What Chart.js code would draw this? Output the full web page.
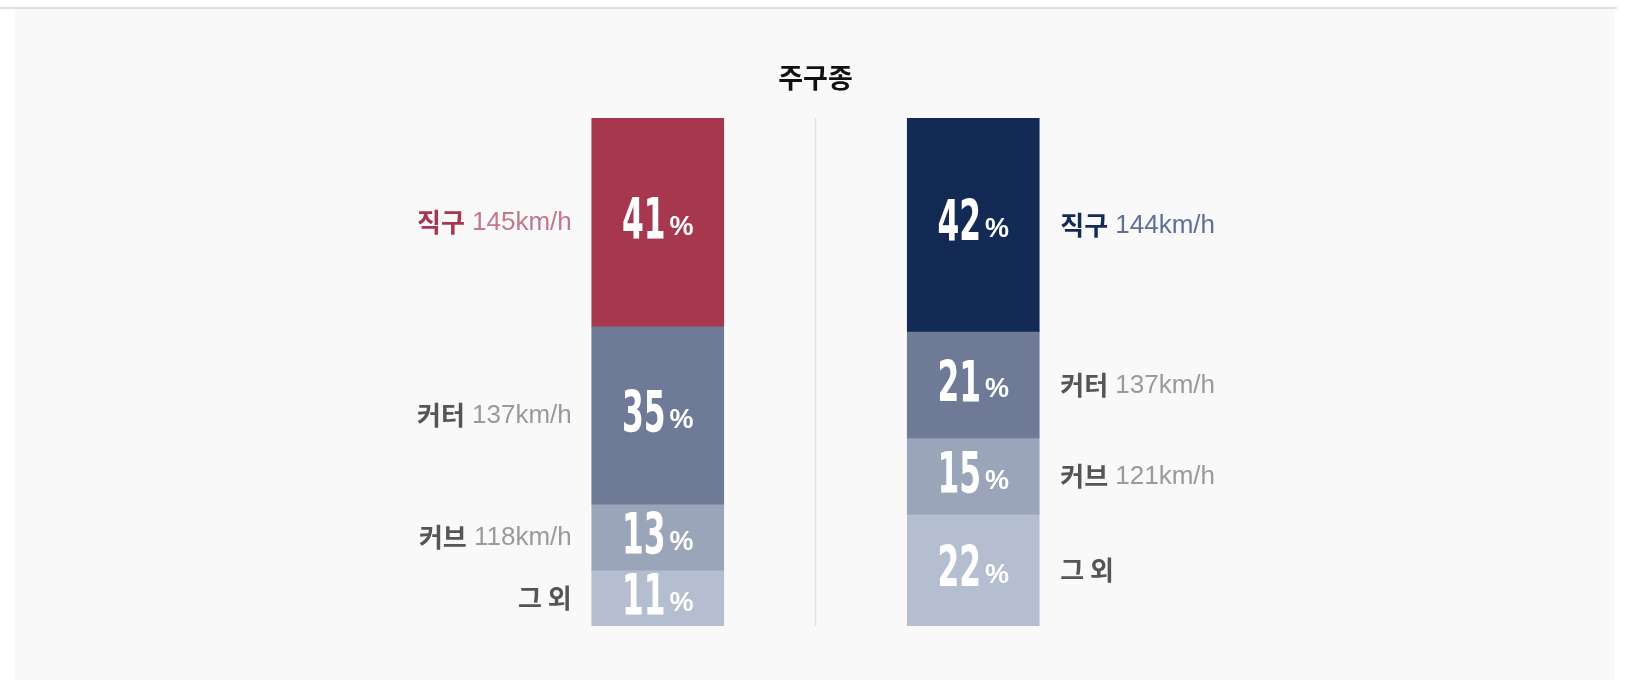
<!DOCTYPE html>
<html><head><meta charset="utf-8">
<script src="https://cdn.jsdelivr.net/npm/chart.js@4"></script>
<style>html,body{margin:0;padding:0;background:#fff;}#w{width:1642px;height:698px;}</style>
</head><body><div id="w"><canvas id="c"></canvas></div>
<script>
const title = '주구종';
const sides = ['left', 'right'];
const pitchNames = ['직구', '커터', '커브', '그 외'];
const leftPct = [41, 35, 13, 11];
const rightPct = [42, 21, 15, 22];
const leftSpeed = ['145km/h', '137km/h', '118km/h', ''];
const rightSpeed = ['144km/h', '137km/h', '121km/h', ''];

const fastColors = ['#a6374f', '#132a54'];
const fills = [null, '#6e7a96', '#9aa5ba', '#b5bdd1'];
const KR = '"Noto Sans CJK KR", "Noto Sans", sans-serif';
const LAT = '"Liberation Sans", "Noto Sans CJK KR", sans-serif';

const datasets = pitchNames.map((n, i) => ({
  label: n,
  data: [leftPct[i], rightPct[i]],
  backgroundColor: i === 0 ? fastColors : fills[i],
  barThickness: 132,
  borderWidth: 0
}));

const deco = {
  id: 'deco',
  beforeDraw(chart) {
    const ctx = chart.ctx, a = chart.chartArea;
    ctx.save();
    ctx.fillStyle = '#f9f9f9';
    ctx.fillRect(15, 9, 1600, 671);
    ctx.fillStyle = '#dedede';
    ctx.fillRect(0, 7, 1617, 2);
    const x0 = chart.scales.x.getPixelForValue(0), x1 = chart.scales.x.getPixelForValue(1);
    ctx.strokeStyle = '#e2e2e2'; ctx.lineWidth = 1.5;
    ctx.beginPath(); ctx.moveTo((x0 + x1) / 2, a.top); ctx.lineTo((x0 + x1) / 2, a.bottom); ctx.stroke();
    ctx.fillStyle = '#111'; ctx.font = 'bold 27px ' + KR;
    ctx.textAlign = 'center'; ctx.textBaseline = 'middle';
    ctx.fillText(title, (x0 + x1) / 2, 78);
    ctx.restore();
  },
  afterDatasetsDraw(chart) {
    const ctx = chart.ctx;
    ctx.save();
    const NUMF = '900 60px "DejaVu Sans Condensed", "Liberation Sans Narrow", sans-serif';
    chart.data.datasets.forEach((ds, i) => {
      const meta = chart.getDatasetMeta(i);
      meta.data.forEach((bar, j) => {
        const cy = (bar.y + bar.base) / 2;
        const num = String(ds.data[j]);
        ctx.fillStyle = '#fff'; ctx.textBaseline = 'middle';
        ctx.font = NUMF;
        const sx = 0.58;
        const nw = ctx.measureText(num).width * sx;
        ctx.font = 'bold 27px "Liberation Sans", sans-serif';
        const pw = ctx.measureText('%').width;
        const total = nw + 4 + pw;
        const start = bar.x - total / 2;
        ctx.save();
        ctx.translate(start, cy + 2);
        ctx.scale(sx, 0.95);
        ctx.font = NUMF;
        ctx.textAlign = 'left';
        ctx.fillText(num, 0, 0);
        ctx.restore();
        ctx.font = 'bold 27px "Liberation Sans", sans-serif';
        ctx.textAlign = 'left';
        ctx.fillText('%', start + nw + 4, cy + 5);
        const name = ds.label;
        const speed = (j === 0 ? leftSpeed : rightSpeed)[i];
        let nameCol = '#555', speedCol = '#9a9a9a';
        if (i === 0) { nameCol = fastColors[j]; speedCol = j === 0 ? '#c37788' : '#5d7096'; }
        ctx.font = 'bold 26px ' + KR;
        const nW = ctx.measureText(name).width;
        ctx.font = '26px ' + LAT;
        const sW = speed ? ctx.measureText(' ' + speed).width : 0;
        let lx = j === 0 ? bar.x - 66 - 20 - nW - sW : bar.x + 66 + 21;
        ctx.fillStyle = nameCol; ctx.font = 'bold 26px ' + KR;
        ctx.fillText(name, lx, cy);
        if (speed) { ctx.fillStyle = speedCol; ctx.font = '26px ' + LAT; ctx.fillText(' ' + speed, lx + nW, cy + 1); }
      });
    });
    ctx.restore();
  }
};

new Chart(document.getElementById('c'), {
  type: 'bar',
  data: { labels: sides, datasets },
  options: {
    responsive: true, maintainAspectRatio: false, animation: false,
    layout: { padding: { left: 500, right: 511, top: 118, bottom: 72 } },
    plugins: { legend: { display: false }, tooltip: { enabled: false } },
    scales: {
      x: { display: false, stacked: true },
      y: { display: false, stacked: true, reverse: true, min: 0, max: 100 }
    }
  },
  plugins: [deco]
});
</script></body></html>
